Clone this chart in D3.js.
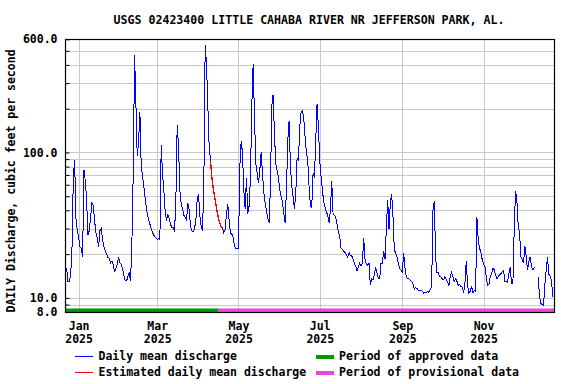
<!DOCTYPE html>
<html>
<head>
<meta charset="utf-8">
<script src="https://cdn.jsdelivr.net/npm/d3@7/dist/d3.min.js"></script>
<style>
body { margin: 0; background: #fff; }
text { font-family: "DejaVu Sans Mono", "Liberation Mono", monospace; font-weight: bold; fill: #000; }
</style>
</head>
<body>
<div id="chart"></div>
<script>
// daily mean discharge, cfs, one value per day starting firstDay
var firstDay = "2024-12-22";
var flowDec2024 = [15, 16, 13, 13, 14.3, 21.4, 66, 89, 35, 29];
var flowJan = [26, 22.5, 22, 19, 76, 64, 47, 27, 29, 36, 45, 43, 34, 28, 26, 22.5, 29, 30, 25, 22.5, 21, 20, 19, 18.7, 17.4, 18, 16.8, 15, 16, 17, 19];
var flowFeb = [17.4, 17, 15.8, 14.3, 13.1, 13.1, 14, 15, 13, 24, 73, 467, 217, 94, 118, 190, 80, 69, 58, 48, 41, 36, 33.5, 31, 29, 27.5, 26.5, 26];
var flowMar = [25.3, 25.5, 25.3, 112, 71, 54, 39, 34, 37.5, 35, 32, 30.5, 30.5, 28.5, 47, 154, 110, 55, 44, 41, 37, 36, 34, 45, 40, 31, 29, 28.5, 30, 34, 48];
var flowApr = [52, 37, 31, 29, 60, 545, 405, 209, 110, 88, 68, 57, 50, 44, 39, 35, 32.5, 31, 30, 28, 29.5, 38, 44, 34, 28, 27.5, 26, 23, 21.7, 21.7];
var flowMay = [21.7, 80, 120, 100, 55, 41, 67, 38, 43, 67, 209, 405, 180, 84, 72, 62, 75, 100, 72, 53, 45, 40, 35, 33, 59, 210, 250, 135, 84, 75, 68];
var flowJun = [55, 50, 46, 38, 33, 55, 120, 165, 80, 59, 50, 41, 52, 92, 88, 150, 190, 194, 172, 128, 100, 88, 58, 43, 42, 72, 67, 120, 217, 150];
var flowJul = [88, 68, 55, 46, 42, 39, 37, 33, 40, 64, 38, 37, 36, 32, 28.5, 26.3, 22, 21.5, 21, 20.5, 20, 19, 20.5, 19.5, 19.5, 18.5, 17.3, 16.5, 15.3, 16.3, 17.3];
var flowAug = [16.5, 17.3, 26, 18.5, 17, 16.8, 17.3, 12.2, 13.5, 13.3, 14.5, 16.3, 14.8, 13.7, 13.5, 17.3, 17.3, 21, 18.5, 30, 47, 30, 45, 52, 36, 21.3, 20.5, 19, 17.3, 16, 15.5];
var flowSep = [15, 20.5, 16, 14, 13.5, 13.5, 13.2, 13, 12.5, 11.5, 11.8, 11.6, 11.3, 11.3, 11.3, 11.1, 10.8, 11, 10.9, 11.1, 10.9, 11.5, 11.8, 40, 46, 19, 15, 15, 14, 13.9];
var flowOct = [13.5, 13.3, 14, 13.3, 12.8, 12.2, 14, 15, 13.9, 13, 13.6, 13, 12.2, 12.4, 12, 11.8, 10.9, 12.6, 18, 12.2, 10.8, 11.1, 12, 10.9, 11.2, 11.1, 36, 25, 22, 20.5, 18.3];
var flowNov = [17, 16.4, 14, 12.2, 12.4, 14, 14.6, 16, 15.6, 14.4, 13.5, 14, 14.4, 14.7, 15.1, 15.4, 13, 12.9, 12.8, 14.8, 16.2, 12.6, 12.6, 30, 54, 47, 31, 28, 19.2, 18.3];
var flowDec2025 = [17.3, 22.8, 19.2, 15.6, 17.8, 19.2, 16.2, 15.6, 16.2, 16, null, 13.9, 10.3, 9.2, 9, 8.9, 12.4, 15.6, 19, 14.5, 14.1, 13, 10.2];

var estimatedDays = ["2025-04-10", "2025-04-19"];
var approvedPeriod = ["2024-12-22", "2025-04-16"];
var provisionalPeriod = ["2025-04-16", "2025-12-24"];
var dateDomain = ["2024-12-22T00:00", "2025-12-23T17:00"];

var monthTicks = ["2025-01-01", "2025-03-01", "2025-05-01", "2025-07-01", "2025-09-01", "2025-11-01"];
var gridValues = [9, 10, 20, 30, 40, 50, 60, 70, 80, 90, 100, 200, 300, 400, 500, 600];
var labelValues = [8, 10, 100, 600];

var title = "USGS 02423400 LITTLE CAHABA RIVER NR JEFFERSON PARK, AL.";
var yTitle = "DAILY Discharge, cubic feet per second";
var legendItems = [
  {label: "Daily mean discharge", color: "#0000ff", kind: "line", col: 0, row: 0},
  {label: "Estimated daily mean discharge", color: "#ff0000", kind: "line", col: 0, row: 1},
  {label: "Period of approved data", color: "#009900", kind: "bar", col: 1, row: 0},
  {label: "Period of provisional data", color: "#ee44dd", kind: "bar", col: 1, row: 1}
];

var W = 576, H = 384;
var L = 65, R = 554, T = 39, B = 312;

var parseDay = d3.timeParse("%Y-%m-%d");
var parseTime = d3.timeParse("%Y-%m-%dT%H:%M");

var allFlow = [].concat(flowDec2024, flowJan, flowFeb, flowMar, flowApr, flowMay, flowJun,
  flowJul, flowAug, flowSep, flowOct, flowNov, flowDec2025);
var day0 = parseDay(firstDay);
var series = allFlow.map(function(v, i) {
  return {date: d3.timeDay.offset(day0, i), value: v};
});

var estA = parseDay(estimatedDays[0]), estB = parseDay(estimatedDays[1]);
var estSeries = series.filter(function(d) { return d.date >= estA && d.date <= estB; });

var x = d3.scaleTime()
  .domain(dateDomain.map(parseTime))
  .range([65.3, 553.8]);
var y = d3.scaleLog()
  .domain([8, 600])
  .range([B, T + 0.3]);

var svg = d3.select("#chart").append("svg")
  .attr("width", W)
  .attr("height", H);

// grid
svg.append("g").selectAll("line.h")
  .data(gridValues)
  .enter().append("line")
    .attr("x1", L).attr("x2", R)
    .attr("y1", function(d) { return Math.round(y(d)) + 0.5; })
    .attr("y2", function(d) { return Math.round(y(d)) + 0.5; })
    .attr("stroke", "#c8c8c8").attr("stroke-width", 1);

svg.append("g").selectAll("line.v")
  .data(monthTicks.map(parseDay))
  .enter().append("line")
    .attr("x1", function(d) { return Math.round(x(d)) + 0.5; })
    .attr("x2", function(d) { return Math.round(x(d)) + 0.5; })
    .attr("y1", T).attr("y2", B)
    .attr("stroke", "#c8c8c8").attr("stroke-width", 1);

// period bars
var periods = [
  {range: approvedPeriod, color: "#009900"},
  {range: provisionalPeriod, color: "#ee44dd"}
];
svg.append("g").selectAll("rect")
  .data(periods)
  .enter().append("rect")
    .attr("x", function(d) { return Math.max(L - 1, x(parseDay(d.range[0]))); })
    .attr("width", function(d) {
      var a = Math.max(L - 1, x(parseDay(d.range[0])));
      var b = Math.min(R, x(parseDay(d.range[1])));
      return b - a;
    })
    .attr("y", B - 3.5)
    .attr("height", 3.5)
    .attr("fill", function(d) { return d.color; });

// data lines
var line = d3.line()
  .defined(function(d) { return d.value != null; })
  .x(function(d) { return x(d.date); })
  .y(function(d) { return y(d.value); });

svg.append("path")
  .datum(series)
  .attr("d", line)
  .attr("fill", "none")
  .attr("stroke", "#0000ff")
  .attr("stroke-width", 1)
  .attr("shape-rendering", "crispEdges");

svg.append("path")
  .datum(estSeries)
  .attr("d", line)
  .attr("fill", "none")
  .attr("stroke", "#ff0000")
  .attr("stroke-width", 1.3)
  .attr("shape-rendering", "crispEdges");

// frame
svg.append("rect")
  .attr("x", L + 0.5).attr("y", T + 0.5)
  .attr("width", R - L).attr("height", B - T)
  .attr("fill", "none")
  .attr("stroke", "#000").attr("stroke-width", 1.2);

// y axis
var yAxis = d3.axisLeft(y)
  .tickValues(gridValues.concat([8]))
  .tickSize(-4)
  .tickPadding(8)
  .tickFormat(function(d) { return labelValues.indexOf(d) >= 0 ? d3.format(".1f")(d) : ""; });

var gy = svg.append("g")
  .attr("transform", "translate(" + (L + 0.5) + ",0)")
  .call(yAxis);
gy.select(".domain").remove();
gy.selectAll("line").attr("stroke", "#000");
gy.selectAll("text").style("font-size", "11.5px");

// x axis
var xAxis = d3.axisBottom(x)
  .tickValues(monthTicks.map(parseDay))
  .tickSize(0)
  .tickPadding(10)
  .tickFormat(d3.timeFormat("%b"));

var gx = svg.append("g")
  .attr("transform", "translate(0," + B + ")")
  .call(xAxis);
gx.select(".domain").remove();
gx.selectAll("text")
  .style("font-size", "11.5px")
  .each(function(d) {
    var t = d3.select(this);
    t.text(null);
    t.append("tspan").attr("x", 0).text(d3.timeFormat("%b")(d));
    t.append("tspan").attr("x", 0).attr("dy", "1.15em").text(d3.timeFormat("%Y")(d));
  });

// titles
svg.append("text")
  .attr("x", 309).attr("y", 24)
  .attr("text-anchor", "middle")
  .style("font-size", "11.6px")
  .text(title);

svg.append("text")
  .attr("transform", "translate(15,181) rotate(-90)")
  .attr("text-anchor", "middle")
  .style("font-size", "11.5px")
  .text(yTitle);

// legend
var legCols = [75, 316];
var legRows = [356, 372];
var leg = svg.append("g").selectAll("g")
  .data(legendItems)
  .enter().append("g")
    .attr("transform", function(d) { return "translate(" + legCols[d.col] + "," + legRows[d.row] + ")"; });

leg.append("line")
  .attr("x1", 0).attr("x2", 18)
  .attr("y1", 0.5).attr("y2", 0.5)
  .attr("stroke", function(d) { return d.color; })
  .attr("stroke-width", function(d) { return d.kind == "bar" ? 4 : 1; })
  .attr("shape-rendering", "crispEdges");

leg.append("text")
  .attr("x", function(d) { return d.kind == "bar" ? 23 : 23.5; })
  .attr("y", 0)
  .attr("dy", "0.35em")
  .style("font-size", "11.5px")
  .text(function(d) { return d.label; });
</script>
</body>
</html>
